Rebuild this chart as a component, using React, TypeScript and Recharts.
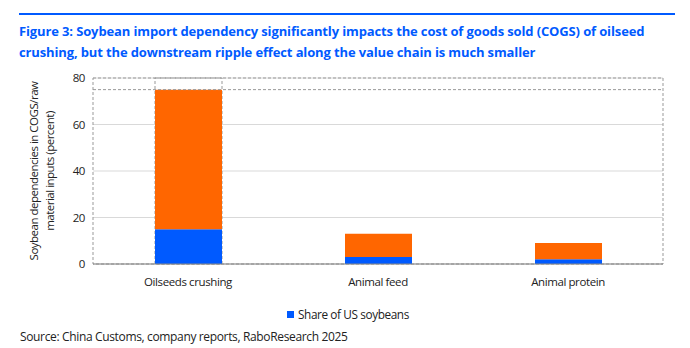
import React from "react"
import { BarChart, Bar, XAxis, YAxis, CartesianGrid, ReferenceLine, ReferenceArea } from "recharts"

const categories = ["Oilseeds crushing", "Animal feed", "Animal protein"]
const usShare = [15, 3, 2]
const otherShare = [60, 10, 7]
const yTicks = [0, 20, 40, 60, 80]

const data = categories.map((name, i) => ({ name, us: usShare[i], other: otherShare[i] }))

const BLUE = "#005AFF"
const ORANGE = "#FF6600"
const FONT = "'Open Sans', 'Noto Sans', sans-serif"
const tickStyle = { fontSize: 11.5, fill: "#222", fontFamily: FONT, letterSpacing: -0.4 }

// dashed outline only around the first column
const FirstBackground = (props: any) => {
  if (props.index !== 0) return <g />
  return (
    <rect x={props.x} y={props.y} width={props.width} height={props.height}
      fill="none" stroke="#999" strokeDasharray="3 2" />
  )
}

const YLabel = () => (
  <text transform="translate(46,171) rotate(-90)" textAnchor="middle" fontSize={11.5} fill="#222"
    fontFamily={FONT} letterSpacing={-0.5}>
    <tspan x={0} dy={-8}>Soybean dependencies in COGS/raw</tspan>
    <tspan x={0} dy={16}>material inputs (percent)</tspan>
  </text>
)

export default function App() {
  return (
    <div style={{ position: "absolute", left: 0, top: 0, width: 690, height: 348, background: "#fff", fontFamily: FONT }}>
      <div style={{ position: "absolute", left: 19, top: 13, width: 656, borderTop: `2px solid ${BLUE}` }} />
      <div style={{ position: "absolute", left: 19, top: 21, width: 670, color: BLUE, fontWeight: 700, fontSize: 13, lineHeight: "21px", letterSpacing: -0.13 }}>
        Figure 3: Soybean import dependency significantly impacts the cost of goods sold (COGS) of oilseed<br />
        crushing, but the downstream ripple effect along the value chain is much smaller
      </div>
      <BarChart width={690} height={348} data={data} margin={{ top: 78, right: 27, bottom: 54, left: 33 }}
        style={{ position: "absolute", left: 0, top: 0 }}>
        <CartesianGrid vertical={false} stroke="#d9d9d9" />
        <ReferenceArea y1={0} y2={80} fill="none" stroke="#999" strokeDasharray="3 2" />
        <ReferenceLine y={75} stroke="#999" strokeDasharray="3 2" />
        <XAxis dataKey="name" tickLine={false} axisLine={{ stroke: "#888" }} height={30}
          tick={tickStyle} tickMargin={8} />
        <YAxis width={60} domain={[0, 80]} ticks={yTicks} axisLine={false} tickLine={false}
          tick={tickStyle} label={<YLabel />} />
        <Bar dataKey="us" name="Share of US soybeans" stackId="a" fill={BLUE} barSize={67}
          background={FirstBackground} isAnimationActive={false} />
        <Bar dataKey="other" name="Other" stackId="a" fill={ORANGE} barSize={67}
          legendType="none" isAnimationActive={false} />
      </BarChart>
      <div style={{ position: "absolute", left: 287, top: 306, display: "flex", alignItems: "center", fontSize: 11.8, letterSpacing: -0.4, color: "#222" }}>
        <span style={{ display: "inline-block", width: 7, height: 7, background: BLUE, marginRight: 4 }} />
        Share of US soybeans
      </div>
      <div style={{ position: "absolute", left: 20, top: 328, fontSize: 12, letterSpacing: -0.35, color: "#222" }}>
        Source: China Customs, company reports, RaboResearch 2025
      </div>
    </div>
  )
}
